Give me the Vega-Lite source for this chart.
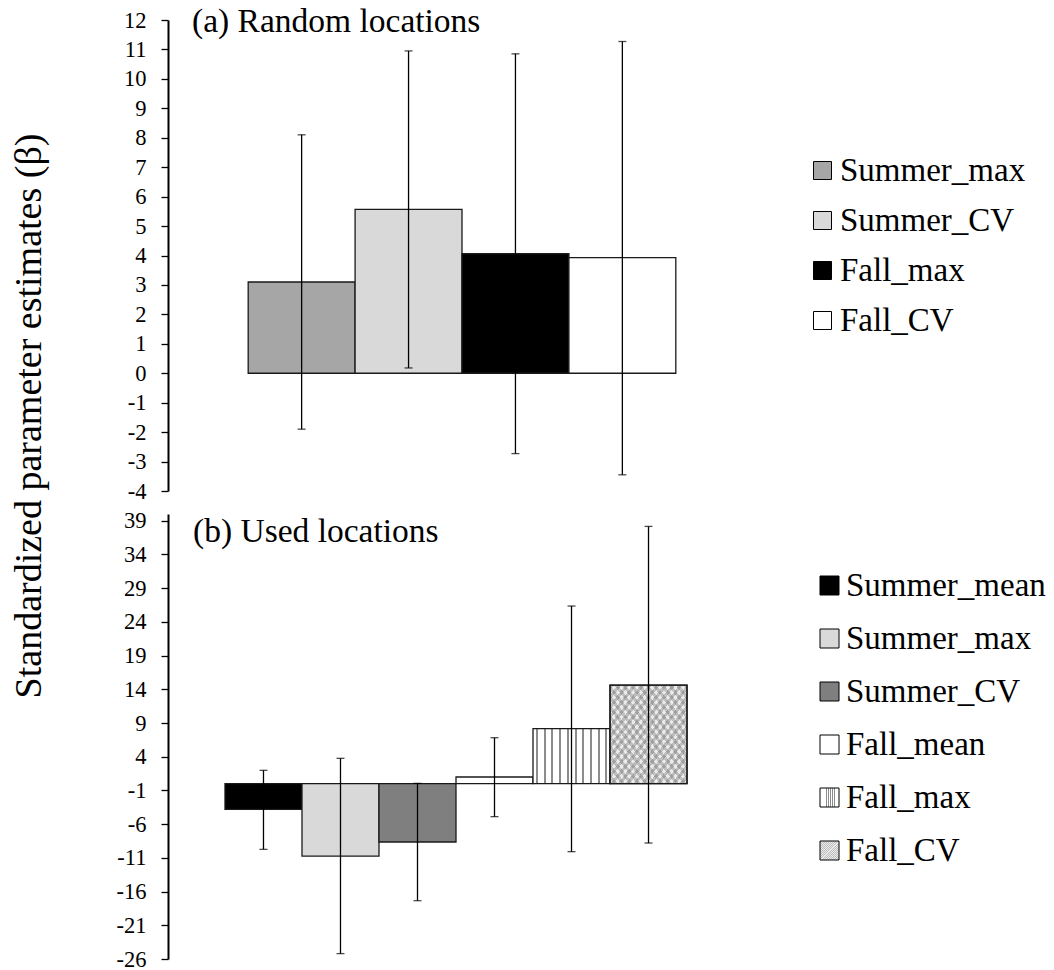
{
  "$schema": "https://vega.github.io/schema/vega-lite/v6.json",
  "background": "white",
  "padding": {"left": 10, "top": 4, "right": 5, "bottom": 0},
  "spacing": 23,
  "bounds": "flush",
  "config": {
    "view": {"stroke": null},
    "axis": {"labelFont": "Times New Roman", "titleFont": "Times New Roman", "labelOverlap": false, "labelSeparation": 0},
    "legend": {"orient": "none", "labelFont": "Times New Roman"},
    "style": {"guide-label": {"font": "Times New Roman"}, "guide-title": {"font": "Times New Roman"}}
  },
  "resolve": {
    "scale": {"x": "independent", "y": "independent", "color": "independent"},
    "legend": {"color": "independent"}
  },
  "vconcat": [
    {
      "width": 588,
      "height": 471,
      "title": {"text": "(a) Random locations", "anchor": "start", "frame": "group", "offset": -33, "dy": 23, "baseline": "alphabetic", "dx": 24, "fontSize": 33.5, "fontWeight": "normal", "font": "Times New Roman", "color": "black"},
      "data": {"values": [
        {"series": "Summer_max", "value": 3.10, "lo": -1.90, "hi": 8.10},
        {"series": "Summer_CV", "value": 5.57, "lo": 0.18, "hi": 10.95},
        {"series": "Fall_max", "value": 4.06, "lo": -2.73, "hi": 10.85},
        {"series": "Fall_CV", "value": 3.93, "lo": -3.45, "hi": 11.27}
      ]},
      "encoding": {
        "x": {"field": "series", "type": "nominal", "sort": null, "scale": {"paddingInner": 0, "paddingOuter": 0.75}, "axis": null}
      },
      "layer": [
        {
          "mark": {"type": "bar", "stroke": "#1a1a1a", "strokeWidth": 1.3},
          "encoding": {
            "y": {"field": "value", "type": "quantitative", "title": "Standardized parameter estimates (β)",
              "scale": {"domain": [-4, 12], "nice": false, "zero": false},
              "axis": {"values": [-4,-3,-2,-1,0,1,2,3,4,5,6,7,8,9,10,11,12], "tickCount": 100,
                "grid": false, "labelFont": "Times New Roman", "labelFontSize": 22.5, "labelColor": "black", "labelPadding": 15,
                "tickSize": 7, "tickColor": "black", "tickWidth": 1.3, "domainColor": "black", "domainWidth": 2,
                "labelOverlap": false, "labelSeparation": 0, "labelBound": false, "labelFlush": false, "labelExpr": "toString(datum.value)",
                "titleFont": "Times New Roman", "titleFontSize": 38, "titleFontWeight": "normal", "titleColor": "black",
                "titleX": -128, "titleY": 395.5, "titleAngle": -90, "titleAlign": "center", "titleBaseline": "alphabetic"}},
            "y2": {"datum": 0},
            "color": {"field": "series", "type": "nominal",
              "scale": {"domain": ["Summer_max", "Summer_CV", "Fall_max", "Fall_CV"], "range": ["#a6a6a6", "#d9d9d9", "#000000", "#ffffff"]},
              "legend": {"orient": "none", "legendX": 638, "legendY": 134, "title": null, "symbolType": "square", "symbolSize": 324,
                "symbolStrokeColor": "black", "symbolStrokeWidth": 1, "labelFont": "Times New Roman", "labelFontSize": 33, "labelColor": "black",
                "labelLimit": 400, "labelOffset": 1, "rowPadding": 16, "padding": 0, "direction": "vertical"}}
          }
        },
        {
          "mark": {"type": "rule", "color": "black", "strokeWidth": 2},
          "encoding": {"y": {"datum": 0}}
        },
        {
          "mark": {"type": "rule", "color": "black", "strokeWidth": 1.3},
          "encoding": {"y": {"field": "lo", "type": "quantitative", "title": "Standardized parameter estimates (β)"}, "y2": {"field": "hi"}}
        },
        {
          "mark": {"type": "tick", "color": "black", "thickness": 1.3, "size": 8},
          "encoding": {"y": {"field": "lo", "type": "quantitative", "title": "Standardized parameter estimates (β)"}}
        },
        {
          "mark": {"type": "tick", "color": "black", "thickness": 1.3, "size": 8},
          "encoding": {"y": {"field": "hi", "type": "quantitative", "title": "Standardized parameter estimates (β)"}}
        }
      ]
    },
    {
      "width": 576,
      "height": 445,
      "title": {"text": "(b) Used locations", "anchor": "start", "frame": "group", "offset": -33, "dy": 33, "baseline": "alphabetic", "dx": 25, "fontSize": 33.5, "fontWeight": "normal", "font": "Times New Roman", "color": "black"},
      "data": {"values": [
        {"series": "Summer_mean", "value": -3.81, "lo": -9.74, "hi": 1.98},
        {"series": "Summer_max", "value": -10.73, "lo": -25.2, "hi": 3.76},
        {"series": "Summer_CV", "value": -8.65, "lo": -17.35, "hi": 0.05},
        {"series": "Fall_mean", "value": 0.99, "lo": -4.89, "hi": 6.82},
        {"series": "Fall_max", "value": 8.16, "lo": -10.08, "hi": 26.35},
        {"series": "Fall_CV", "value": 14.63, "lo": -8.8, "hi": 38.16}
      ]},
      "encoding": {
        "x": {"field": "series", "type": "nominal", "sort": null, "scale": {"paddingInner": 0, "paddingOuter": 0.74}, "axis": null}
      },
      "layer": [
        {
          "mark": {"type": "bar", "stroke": "#1a1a1a", "strokeWidth": 1.3},
          "encoding": {
            "y": {"field": "value", "type": "quantitative", "title": null,
              "scale": {"domain": [-26, 40], "nice": false, "zero": false},
              "axis": {"values": [-26,-21,-16,-11,-6,-1,4,9,14,19,24,29,34,39], "tickCount": 100,
                "grid": false, "labelFont": "Times New Roman", "labelFontSize": 22.5, "labelColor": "black", "labelPadding": 15,
                "tickSize": 7, "tickColor": "black", "tickWidth": 1.3, "domainColor": "black", "domainWidth": 2,
                "labelOverlap": false, "labelSeparation": 0, "labelBound": false, "labelFlush": false, "labelExpr": "toString(datum.value)"}},
            "y2": {"datum": 0},
            "color": {"field": "series", "type": "nominal",
              "scale": {"domain": ["Summer_mean", "Summer_max", "Summer_CV", "Fall_mean", "Fall_max", "Fall_CV"],
                "range": ["#000000", "#d9d9d9", "#7f7f7f", "#ffffff",
                  {"expr": "{gradient:'linear',x1:0,y1:0,x2:1,y2:0,stops:[{offset:0,color:'#ffffff'},{offset:0.04,color:'#ffffff'},{offset:0.04,color:'#8c8c8c'},{offset:0.065,color:'#8c8c8c'},{offset:0.065,color:'#ffffff'},{offset:0.14,color:'#ffffff'},{offset:0.14,color:'#8c8c8c'},{offset:0.165,color:'#8c8c8c'},{offset:0.165,color:'#ffffff'},{offset:0.24,color:'#ffffff'},{offset:0.24,color:'#8c8c8c'},{offset:0.265,color:'#8c8c8c'},{offset:0.265,color:'#ffffff'},{offset:0.34,color:'#ffffff'},{offset:0.34,color:'#8c8c8c'},{offset:0.365,color:'#8c8c8c'},{offset:0.365,color:'#ffffff'},{offset:0.44,color:'#ffffff'},{offset:0.44,color:'#8c8c8c'},{offset:0.465,color:'#8c8c8c'},{offset:0.465,color:'#ffffff'},{offset:0.54,color:'#ffffff'},{offset:0.54,color:'#8c8c8c'},{offset:0.565,color:'#8c8c8c'},{offset:0.565,color:'#ffffff'},{offset:0.64,color:'#ffffff'},{offset:0.64,color:'#8c8c8c'},{offset:0.665,color:'#8c8c8c'},{offset:0.665,color:'#ffffff'},{offset:0.74,color:'#ffffff'},{offset:0.74,color:'#8c8c8c'},{offset:0.765,color:'#8c8c8c'},{offset:0.765,color:'#ffffff'},{offset:0.84,color:'#ffffff'},{offset:0.84,color:'#8c8c8c'},{offset:0.865,color:'#8c8c8c'},{offset:0.865,color:'#ffffff'},{offset:0.94,color:'#ffffff'},{offset:0.94,color:'#8c8c8c'},{offset:0.965,color:'#8c8c8c'},{offset:0.965,color:'#ffffff'},{offset:1,color:'#ffffff'}]}"},
                  {"expr": "{gradient:'linear',x1:0,y1:0,x2:1,y2:1,stops:[{offset:0,color:'#bdbdbd'},{offset:0.025,color:'#bdbdbd'},{offset:0.025,color:'#ebebeb'},{offset:0.05,color:'#ebebeb'},{offset:0.05,color:'#bdbdbd'},{offset:0.075,color:'#bdbdbd'},{offset:0.075,color:'#ebebeb'},{offset:0.1,color:'#ebebeb'},{offset:0.1,color:'#bdbdbd'},{offset:0.125,color:'#bdbdbd'},{offset:0.125,color:'#ebebeb'},{offset:0.15,color:'#ebebeb'},{offset:0.15,color:'#bdbdbd'},{offset:0.175,color:'#bdbdbd'},{offset:0.175,color:'#ebebeb'},{offset:0.2,color:'#ebebeb'},{offset:0.2,color:'#bdbdbd'},{offset:0.225,color:'#bdbdbd'},{offset:0.225,color:'#ebebeb'},{offset:0.25,color:'#ebebeb'},{offset:0.25,color:'#bdbdbd'},{offset:0.275,color:'#bdbdbd'},{offset:0.275,color:'#ebebeb'},{offset:0.3,color:'#ebebeb'},{offset:0.3,color:'#bdbdbd'},{offset:0.325,color:'#bdbdbd'},{offset:0.325,color:'#ebebeb'},{offset:0.35,color:'#ebebeb'},{offset:0.35,color:'#bdbdbd'},{offset:0.375,color:'#bdbdbd'},{offset:0.375,color:'#ebebeb'},{offset:0.4,color:'#ebebeb'},{offset:0.4,color:'#bdbdbd'},{offset:0.425,color:'#bdbdbd'},{offset:0.425,color:'#ebebeb'},{offset:0.45,color:'#ebebeb'},{offset:0.45,color:'#bdbdbd'},{offset:0.475,color:'#bdbdbd'},{offset:0.475,color:'#ebebeb'},{offset:0.5,color:'#ebebeb'},{offset:0.5,color:'#bdbdbd'},{offset:0.525,color:'#bdbdbd'},{offset:0.525,color:'#ebebeb'},{offset:0.55,color:'#ebebeb'},{offset:0.55,color:'#bdbdbd'},{offset:0.575,color:'#bdbdbd'},{offset:0.575,color:'#ebebeb'},{offset:0.6,color:'#ebebeb'},{offset:0.6,color:'#bdbdbd'},{offset:0.625,color:'#bdbdbd'},{offset:0.625,color:'#ebebeb'},{offset:0.65,color:'#ebebeb'},{offset:0.65,color:'#bdbdbd'},{offset:0.675,color:'#bdbdbd'},{offset:0.675,color:'#ebebeb'},{offset:0.7,color:'#ebebeb'},{offset:0.7,color:'#bdbdbd'},{offset:0.725,color:'#bdbdbd'},{offset:0.725,color:'#ebebeb'},{offset:0.75,color:'#ebebeb'},{offset:0.75,color:'#bdbdbd'},{offset:0.775,color:'#bdbdbd'},{offset:0.775,color:'#ebebeb'},{offset:0.8,color:'#ebebeb'},{offset:0.8,color:'#bdbdbd'},{offset:0.825,color:'#bdbdbd'},{offset:0.825,color:'#ebebeb'},{offset:0.85,color:'#ebebeb'},{offset:0.85,color:'#bdbdbd'},{offset:0.875,color:'#bdbdbd'},{offset:0.875,color:'#ebebeb'},{offset:0.9,color:'#ebebeb'},{offset:0.9,color:'#bdbdbd'},{offset:0.925,color:'#bdbdbd'},{offset:0.925,color:'#ebebeb'},{offset:0.95,color:'#ebebeb'},{offset:0.95,color:'#bdbdbd'},{offset:0.975,color:'#bdbdbd'},{offset:0.975,color:'#ebebeb'},{offset:1,color:'#ebebeb'}]}"}
                ]},
              "legend": {"orient": "none", "legendX": 645, "legendY": 55, "title": null, "symbolType": "square", "symbolSize": 361,
                "symbolStrokeColor": "black", "symbolStrokeWidth": 1, "labelFont": "Times New Roman", "labelFontSize": 33, "labelColor": "black",
                "labelLimit": 400, "labelOffset": 0, "rowPadding": 19, "padding": 0, "direction": "vertical"}}
          }
        },
        {
          "transform": [{"filter": "datum.series === 'Fall_CV'"}],
          "mark": {"type": "bar", "stroke": "#1a1a1a", "strokeWidth": 1.3,
            "fill": {"gradient": "linear", "x1": 1, "y1": 0, "x2": 0, "y2": 1, "stops": [
              {"offset": 0, "color": "rgba(90,90,90,0.3)"}, {"offset": 0.025, "color": "rgba(90,90,90,0.3)"}, {"offset": 0.025, "color": "rgba(255,255,255,0)"}, {"offset": 0.05, "color": "rgba(255,255,255,0)"},
              {"offset": 0.05, "color": "rgba(90,90,90,0.3)"}, {"offset": 0.075, "color": "rgba(90,90,90,0.3)"}, {"offset": 0.075, "color": "rgba(255,255,255,0)"}, {"offset": 0.1, "color": "rgba(255,255,255,0)"},
              {"offset": 0.1, "color": "rgba(90,90,90,0.3)"}, {"offset": 0.125, "color": "rgba(90,90,90,0.3)"}, {"offset": 0.125, "color": "rgba(255,255,255,0)"}, {"offset": 0.15, "color": "rgba(255,255,255,0)"},
              {"offset": 0.15, "color": "rgba(90,90,90,0.3)"}, {"offset": 0.175, "color": "rgba(90,90,90,0.3)"}, {"offset": 0.175, "color": "rgba(255,255,255,0)"}, {"offset": 0.2, "color": "rgba(255,255,255,0)"},
              {"offset": 0.2, "color": "rgba(90,90,90,0.3)"}, {"offset": 0.225, "color": "rgba(90,90,90,0.3)"}, {"offset": 0.225, "color": "rgba(255,255,255,0)"}, {"offset": 0.25, "color": "rgba(255,255,255,0)"},
              {"offset": 0.25, "color": "rgba(90,90,90,0.3)"}, {"offset": 0.275, "color": "rgba(90,90,90,0.3)"}, {"offset": 0.275, "color": "rgba(255,255,255,0)"}, {"offset": 0.3, "color": "rgba(255,255,255,0)"},
              {"offset": 0.3, "color": "rgba(90,90,90,0.3)"}, {"offset": 0.325, "color": "rgba(90,90,90,0.3)"}, {"offset": 0.325, "color": "rgba(255,255,255,0)"}, {"offset": 0.35, "color": "rgba(255,255,255,0)"},
              {"offset": 0.35, "color": "rgba(90,90,90,0.3)"}, {"offset": 0.375, "color": "rgba(90,90,90,0.3)"}, {"offset": 0.375, "color": "rgba(255,255,255,0)"}, {"offset": 0.4, "color": "rgba(255,255,255,0)"},
              {"offset": 0.4, "color": "rgba(90,90,90,0.3)"}, {"offset": 0.425, "color": "rgba(90,90,90,0.3)"}, {"offset": 0.425, "color": "rgba(255,255,255,0)"}, {"offset": 0.45, "color": "rgba(255,255,255,0)"},
              {"offset": 0.45, "color": "rgba(90,90,90,0.3)"}, {"offset": 0.475, "color": "rgba(90,90,90,0.3)"}, {"offset": 0.475, "color": "rgba(255,255,255,0)"}, {"offset": 0.5, "color": "rgba(255,255,255,0)"},
              {"offset": 0.5, "color": "rgba(90,90,90,0.3)"}, {"offset": 0.525, "color": "rgba(90,90,90,0.3)"}, {"offset": 0.525, "color": "rgba(255,255,255,0)"}, {"offset": 0.55, "color": "rgba(255,255,255,0)"},
              {"offset": 0.55, "color": "rgba(90,90,90,0.3)"}, {"offset": 0.575, "color": "rgba(90,90,90,0.3)"}, {"offset": 0.575, "color": "rgba(255,255,255,0)"}, {"offset": 0.6, "color": "rgba(255,255,255,0)"},
              {"offset": 0.6, "color": "rgba(90,90,90,0.3)"}, {"offset": 0.625, "color": "rgba(90,90,90,0.3)"}, {"offset": 0.625, "color": "rgba(255,255,255,0)"}, {"offset": 0.65, "color": "rgba(255,255,255,0)"},
              {"offset": 0.65, "color": "rgba(90,90,90,0.3)"}, {"offset": 0.675, "color": "rgba(90,90,90,0.3)"}, {"offset": 0.675, "color": "rgba(255,255,255,0)"}, {"offset": 0.7, "color": "rgba(255,255,255,0)"},
              {"offset": 0.7, "color": "rgba(90,90,90,0.3)"}, {"offset": 0.725, "color": "rgba(90,90,90,0.3)"}, {"offset": 0.725, "color": "rgba(255,255,255,0)"}, {"offset": 0.75, "color": "rgba(255,255,255,0)"},
              {"offset": 0.75, "color": "rgba(90,90,90,0.3)"}, {"offset": 0.775, "color": "rgba(90,90,90,0.3)"}, {"offset": 0.775, "color": "rgba(255,255,255,0)"}, {"offset": 0.8, "color": "rgba(255,255,255,0)"},
              {"offset": 0.8, "color": "rgba(90,90,90,0.3)"}, {"offset": 0.825, "color": "rgba(90,90,90,0.3)"}, {"offset": 0.825, "color": "rgba(255,255,255,0)"}, {"offset": 0.85, "color": "rgba(255,255,255,0)"},
              {"offset": 0.85, "color": "rgba(90,90,90,0.3)"}, {"offset": 0.875, "color": "rgba(90,90,90,0.3)"}, {"offset": 0.875, "color": "rgba(255,255,255,0)"}, {"offset": 0.9, "color": "rgba(255,255,255,0)"},
              {"offset": 0.9, "color": "rgba(90,90,90,0.3)"}, {"offset": 0.925, "color": "rgba(90,90,90,0.3)"}, {"offset": 0.925, "color": "rgba(255,255,255,0)"}, {"offset": 0.95, "color": "rgba(255,255,255,0)"},
              {"offset": 0.95, "color": "rgba(90,90,90,0.3)"}, {"offset": 0.975, "color": "rgba(90,90,90,0.3)"}, {"offset": 0.975, "color": "rgba(255,255,255,0)"}, {"offset": 1, "color": "rgba(255,255,255,0)"}
            ]}},
          "encoding": {
            "y": {"field": "value", "type": "quantitative", "title": null},
            "y2": {"datum": 0}
          }
        },
        {
          "mark": {"type": "rule", "color": "black", "strokeWidth": 2},
          "encoding": {"y": {"datum": 0}}
        },
        {
          "mark": {"type": "rule", "color": "black", "strokeWidth": 1.3},
          "encoding": {"y": {"field": "lo", "type": "quantitative", "title": null}, "y2": {"field": "hi"}}
        },
        {
          "mark": {"type": "tick", "color": "black", "thickness": 1.3, "size": 8},
          "encoding": {"y": {"field": "lo", "type": "quantitative", "title": null}}
        },
        {
          "mark": {"type": "tick", "color": "black", "thickness": 1.3, "size": 8},
          "encoding": {"y": {"field": "hi", "type": "quantitative", "title": null}}
        }
      ]
    }
  ]
}
